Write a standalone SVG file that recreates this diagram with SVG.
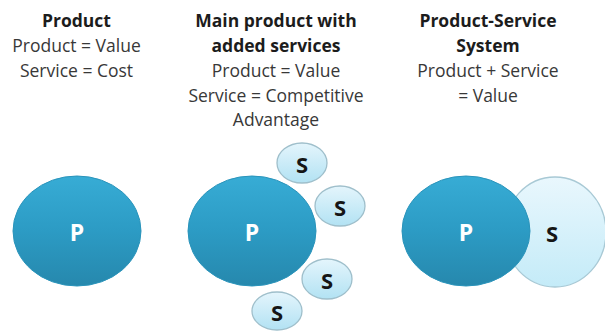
<svg xmlns="http://www.w3.org/2000/svg" width="605" height="332" viewBox="0 0 605 332">
  <defs>
    <linearGradient id="gP" x1="0" y1="0" x2="0" y2="1">
      <stop offset="0" stop-color="#37acd5"/>
      <stop offset="0.5" stop-color="#2c9bc4"/>
      <stop offset="1" stop-color="#2688ad"/>
    </linearGradient>
    <linearGradient id="gS" x1="0" y1="0" x2="0" y2="1">
      <stop offset="0" stop-color="#e4f5fc"/>
      <stop offset="1" stop-color="#b2e2f3"/>
    </linearGradient>
    <linearGradient id="gSB" x1="0" y1="0" x2="0" y2="1">
      <stop offset="0" stop-color="#e9f7fd"/>
      <stop offset="1" stop-color="#c4ebf8"/>
    </linearGradient>
    <style>
      .t { font-family: "Open Sans", "Noto Sans", sans-serif; font-size: 17.5px; fill: #383838; text-anchor: middle; }
      .b { font-weight: bold; fill: #1c1c1c; }
      .p { fill: url(#gP); stroke: #2a94bb; stroke-width: 1; }
      .s { fill: url(#gS); stroke: #9fbfcb; stroke-width: 1.3; }
      .sb { fill: url(#gSB); stroke: #a8c9d5; stroke-width: 1.3; }
      .pl { font-family: "Open Sans", "Noto Sans", sans-serif; font-weight: bold; font-size: 23px; fill: #ffffff; text-anchor: middle; dominant-baseline: central; }
      .sl { font-family: "Open Sans", "Noto Sans", sans-serif; font-weight: bold; font-size: 22px; fill: #151515; text-anchor: middle; dominant-baseline: central; }
    </style>
  </defs>

  <g id="col1-text">
    <text class="t b" x="76.5" y="27">Product</text>
    <text class="t" x="76.5" y="52">Product = Value</text>
    <text class="t" x="76.5" y="77">Service = Cost</text>
  </g>
  <g id="col2-text">
    <text class="t b" x="276" y="27">Main product with</text>
    <text class="t b" x="276" y="52">added services</text>
    <text class="t" x="276" y="77">Product = Value</text>
    <text class="t" x="276" y="101.5">Service = Competitive</text>
    <text class="t" x="276" y="126">Advantage</text>
  </g>
  <g id="col3-text">
    <text class="t b" x="488" y="27">Product-Service</text>
    <text class="t b" x="488" y="52">System</text>
    <text class="t" x="488" y="77">Product + Service</text>
    <text class="t" x="488" y="101.5">= Value</text>
  </g>

  <g id="p1">
    <ellipse class="p" cx="77" cy="231" rx="64" ry="55"/>
    <text class="pl" x="77" y="232">P</text>
  </g>

  <g id="p2">
    <ellipse class="p" cx="252" cy="231" rx="64" ry="55"/>
    <text class="pl" x="252" y="232">P</text>
  </g>
  <g id="s1">
    <ellipse class="s" cx="302" cy="163" rx="25" ry="20"/>
    <text class="sl" x="302" y="164">S</text>
  </g>
  <g id="s2">
    <ellipse class="s" cx="340" cy="206" rx="25" ry="20"/>
    <text class="sl" x="340" y="207">S</text>
  </g>
  <g id="s3">
    <ellipse class="s" cx="327" cy="279" rx="25" ry="20"/>
    <text class="sl" x="327" y="280">S</text>
  </g>
  <g id="s4">
    <ellipse class="s" cx="277" cy="311" rx="25" ry="19"/>
    <text class="sl" x="277" y="312">S</text>
  </g>

  <g id="s-big">
    <ellipse class="sb" cx="555" cy="232" rx="51" ry="55"/>
    <text class="sl" x="552" y="233">S</text>
  </g>
  <g id="p3">
    <ellipse class="p" cx="466" cy="231" rx="64" ry="55"/>
    <text class="pl" x="466" y="232">P</text>
  </g>
</svg>
